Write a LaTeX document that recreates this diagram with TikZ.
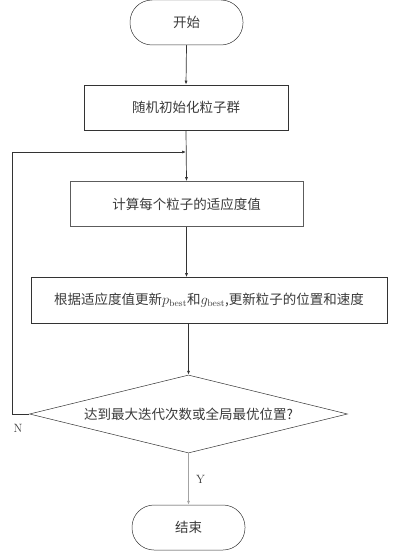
\documentclass[tikz,border=0pt]{standalone}
\usepackage{fontspec}
\newfontfamily\cjk{Noto Sans CJK SC}[Scale=1]
\usetikzlibrary{shapes.geometric,arrows.meta}
\definecolor{ln}{HTML}{333333}
\definecolor{tx}{HTML}{3A3A3A}
\begin{document}
\begin{tikzpicture}[x=1pt,y=-1pt,
  every node/.style={text=tx,font=\cjk\fontsize{13.5}{16}\selectfont},
  term/.style={draw=ln,line width=0.5pt,rounded corners=22pt,minimum width=113pt,minimum height=45pt,inner sep=0pt},
  proc/.style={draw=ln,line width=0.7pt,minimum height=45pt,inner sep=0pt},
  dec/.style={draw=ln,line width=0.5pt,diamond,aspect=4.08,minimum width=318pt,minimum height=78pt,inner sep=0pt},
  arr/.style={draw=ln,line width=0.7pt,-{Latex[length=4pt,width=3pt]}},
  lbl/.style={font=\fontsize{12}{14}\selectfont}
]
\useasboundingbox (0,0) rectangle (400,551);
\node[term] (start) at (186.5,22.5) {开始};
\node[proc,minimum width=204pt] (init) at (186,107.5) {随机初始化粒子群};
\node[proc,minimum width=233pt,draw=ln!80] (fit) at (186.5,204) {计算每个粒子的适应度值};
\node[proc,minimum width=356pt,minimum height=46pt] (upd) at (209,300.5) {根据适应度值更新$p_{\mathrm{best}}$和$g_{\mathrm{best}}$,更新粒子的位置和速度};
\node[dec] (dec) at (188.5,414) {达到最大迭代次数或全局最优位置?};
\node[term] (end) at (188.5,527.5) {结束};
\coordinate (lc) at (12,152);
\coordinate (jn) at (186,152);
\draw[arr] (start.south) -- (init.north);
\draw[arr] (init.south) -- (fit.north);
\draw[arr] (fit.south) -- (fit.south |- upd.north);
\draw[arr] (dec.north |- upd.south) -- (dec.north);
\draw[arr,draw=ln!45] (dec.south) -- node[right=4pt,lbl] (y) {Y} (end.north);
\draw[arr] (dec.west) -- (dec.west -| lc) -- (lc) -- (jn);
\node[lbl] (n) at (18,428) {N};
\end{tikzpicture}
\end{document}
